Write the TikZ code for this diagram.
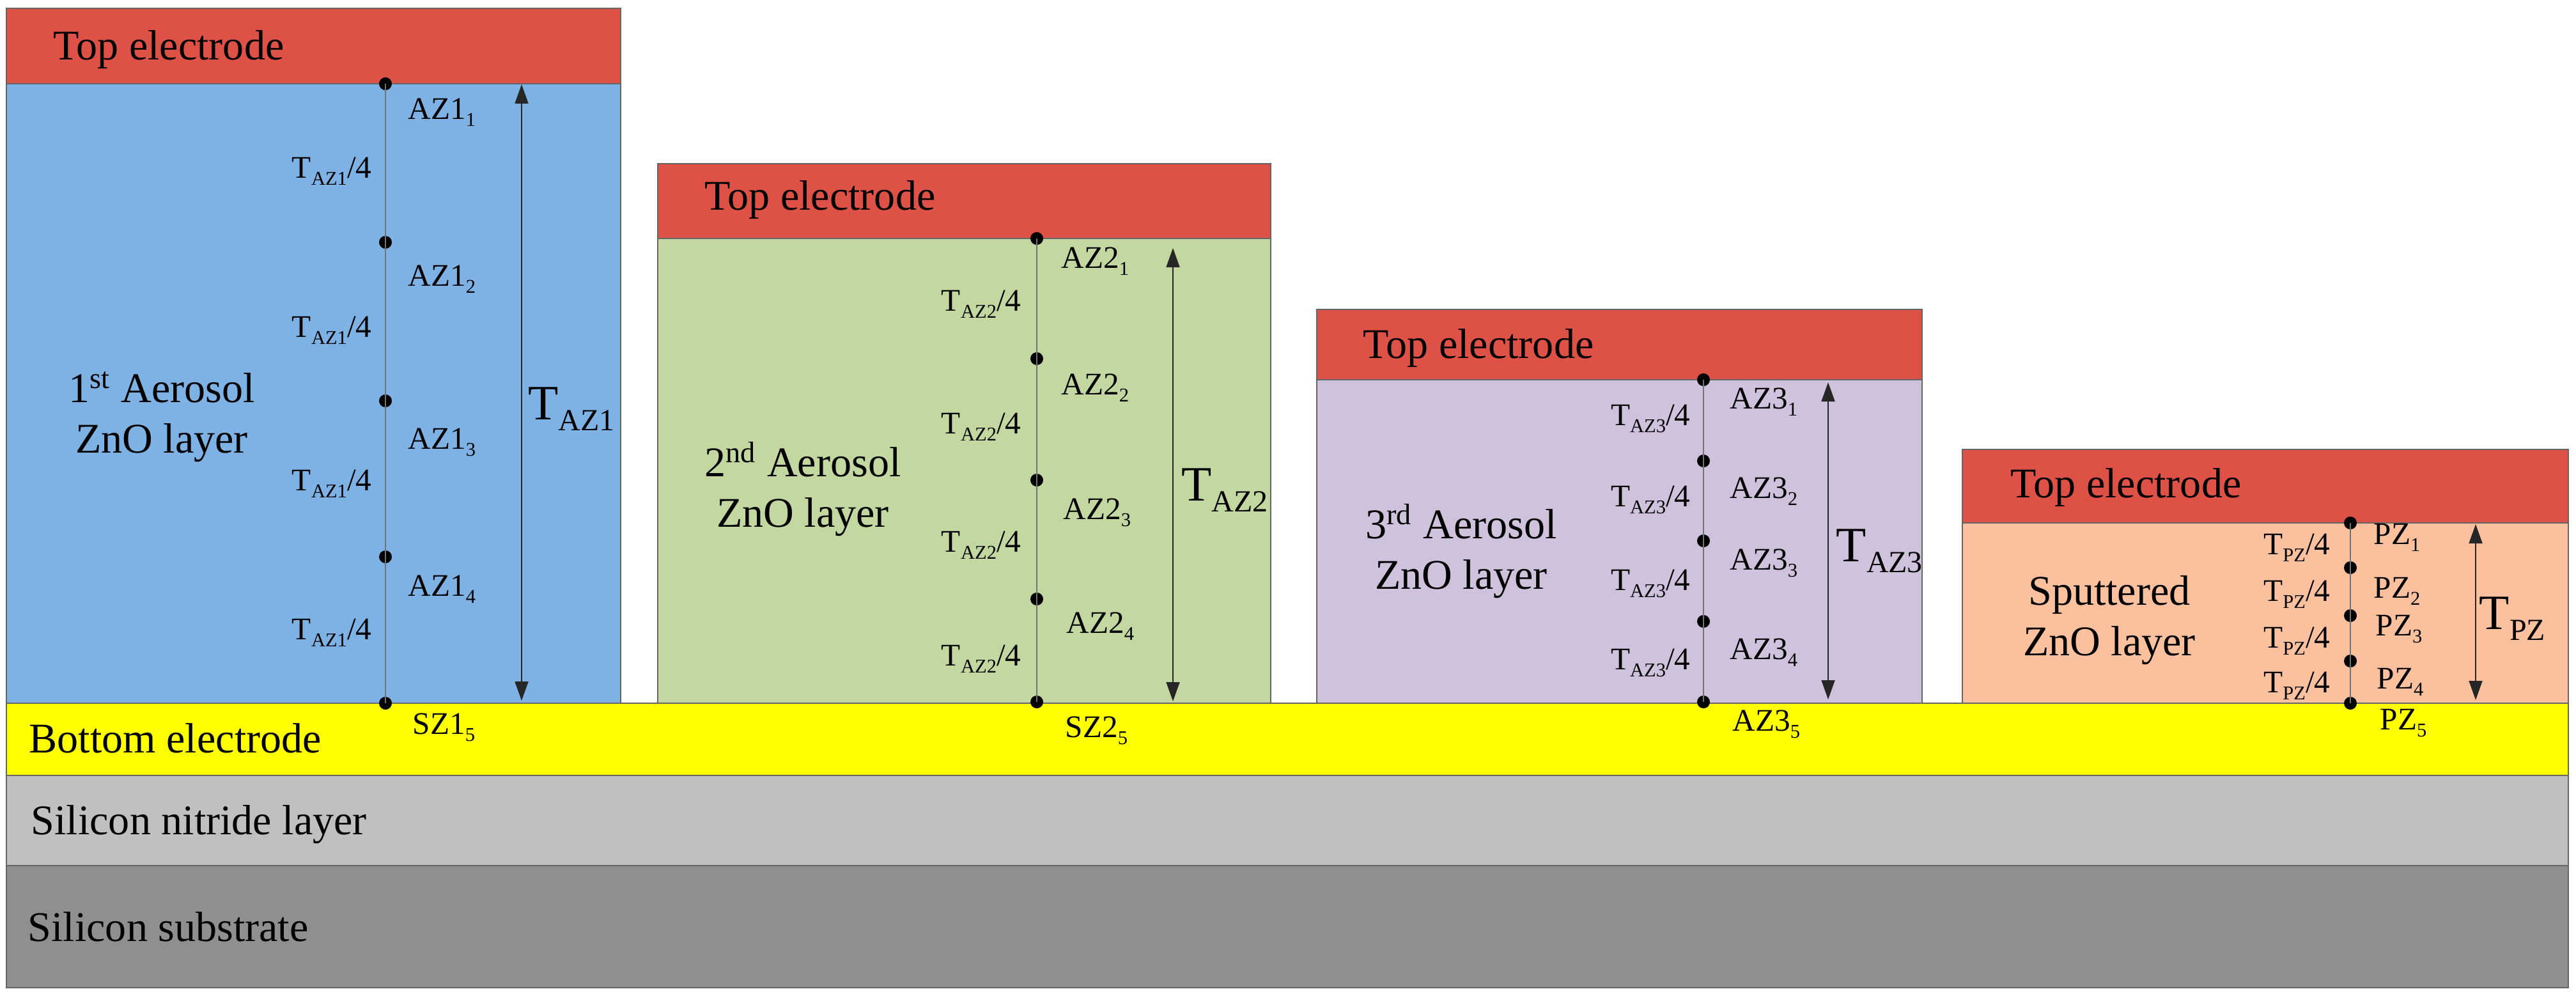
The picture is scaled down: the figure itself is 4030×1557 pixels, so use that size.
\documentclass[tikz,border=0pt]{standalone}
\usepackage{fontspec}
\setmainfont{Liberation Serif}
\usepackage{graphicx}
\usetikzlibrary{arrows.meta}
\definecolor{topred}{RGB}{221,81,70}
\definecolor{aeroblue}{RGB}{126,178,228}
\definecolor{aerogreen}{RGB}{195,215,160}
\definecolor{aeropurple}{RGB}{206,194,220}
\definecolor{sputpeach}{RGB}{251,193,158}
\definecolor{elyellow}{RGB}{255,255,0}
\definecolor{nitride}{RGB}{192,192,192}
\definecolor{substr}{RGB}{143,143,143}
\newcommand{\lsub}[1]{\raisebox{-0.22em}{\scalebox{0.62}{#1}}}
\begin{document}
\begin{tikzpicture}[x=0.01cm,y=-0.01cm,
  layerbox/.style={draw=black!60, line width=0.6pt},
  bigtxt/.style={font=\fontsize{18.8}{22.5}\selectfont, inner sep=0pt, align=center},
  smalltxt/.style={font=\fontsize{14}{16}\selectfont, inner sep=0pt},
  tlabel/.style={font=\fontsize{22}{24}\selectfont, inner sep=0pt},
  ptdot/.style={circle, fill=black, inner sep=0pt, minimum size=0.2cm},
  ruler/.style={line width=0.5pt, draw=black!55},
  dimarrow/.style={{Triangle[length=0.3cm,width=0.21cm]}-{Triangle[length=0.3cm,width=0.21cm]}, line width=0.5pt, draw=black!85, fill=black}
]
\useasboundingbox (0,0) rectangle (4030,1557);
\fill[white] (0,0) rectangle (4030,1557);

% base layers
\draw[layerbox, fill=substr] (10,1354) rectangle (4018,1545);
\draw[layerbox, fill=nitride] (10,1213) rectangle (4018,1354);
\draw[layerbox, fill=elyellow] (10,1100) rectangle (4018,1213);
\node[bigtxt, anchor=west] (lbot) at (45,1155) {Bottom electrode};
\node[bigtxt, anchor=west] (lnit) at (48,1290) {Silicon nitride layer};
\node[bigtxt, anchor=west] (lsub) at (43,1450) {Silicon substrate};

% stack 1
\draw[layerbox, fill=aeroblue] (10,131) rectangle (971,1100);
\draw[layerbox, fill=topred] (10,13) rectangle (971,131);
\node[bigtxt, anchor=west] (te1) at (83,78) {Top electrode};
\node[bigtxt] (ly1) at (253,652) {1\textsuperscript{st} Aerosol\\ZnO layer};
\node[ptdot] (a1) at (603,131) {};
\node[ptdot] (a2) at (603,379) {};
\node[ptdot] (a3) at (603,627) {};
\node[ptdot] (a4) at (603,871) {};
\node[ptdot] (a5) at (603,1100) {};
\draw[ruler] (a1.center) -- (a2.center) -- (a3.center) -- (a4.center) -- (a5.center);
\node[smalltxt, anchor=west] (na1) at (638,176) {AZ1\lsub{1}};
\node[smalltxt, anchor=west] (na2) at (638,437) {AZ1\lsub{2}};
\node[smalltxt, anchor=west] (na3) at (638,692) {AZ1\lsub{3}};
\node[smalltxt, anchor=west] (na4) at (638,922) {AZ1\lsub{4}};
\node[smalltxt, anchor=west] (na5) at (645,1138) {SZ1\lsub{5}};
\node[smalltxt, anchor=east] (ta1) at (582,268) {T\lsub{AZ1}/4};
\node[smalltxt, anchor=east] (ta2) at (582,517) {T\lsub{AZ1}/4};
\node[smalltxt, anchor=east] (ta3) at (582,757) {T\lsub{AZ1}/4};
\node[smalltxt, anchor=east] (ta4) at (582,990) {T\lsub{AZ1}/4};
\coordinate (ar1t) at (816,132);
\coordinate (ar1b) at (816,1096);
\draw[dimarrow] (ar1t) -- (ar1b);
\node[tlabel, anchor=west] (T1) at (826,640) {T\lsub{AZ1}};

% stack 2
\draw[layerbox, fill=aerogreen] (1029,373) rectangle (1988,1100);
\draw[layerbox, fill=topred] (1029,256) rectangle (1988,373);
\node[bigtxt, anchor=west] (te2) at (1102,313) {Top electrode};
\node[bigtxt] (ly2) at (1256,765) {2\textsuperscript{nd} Aerosol\\ZnO layer};
\node[ptdot] (b1) at (1622,373) {};
\node[ptdot] (b2) at (1622,561) {};
\node[ptdot] (b3) at (1622,751) {};
\node[ptdot] (b4) at (1622,937) {};
\node[ptdot] (b5) at (1622,1098) {};
\draw[ruler] (b1.center) -- (b2.center) -- (b3.center) -- (b4.center) -- (b5.center);
\node[smalltxt, anchor=west] (nb1) at (1660,409) {AZ2\lsub{1}};
\node[smalltxt, anchor=west] (nb2) at (1660,607) {AZ2\lsub{2}};
\node[smalltxt, anchor=west] (nb3) at (1663,802) {AZ2\lsub{3}};
\node[smalltxt, anchor=west] (nb4) at (1668,980) {AZ2\lsub{4}};
\node[smalltxt, anchor=west] (nb5) at (1666,1143) {SZ2\lsub{5}};
\node[smalltxt, anchor=east] (tb1) at (1598,476) {T\lsub{AZ2}/4};
\node[smalltxt, anchor=east] (tb2) at (1598,668) {T\lsub{AZ2}/4};
\node[smalltxt, anchor=east] (tb3) at (1598,853) {T\lsub{AZ2}/4};
\node[smalltxt, anchor=east] (tb4) at (1598,1031) {T\lsub{AZ2}/4};
\coordinate (ar2t) at (1835,388);
\coordinate (ar2b) at (1835,1097);
\draw[dimarrow] (ar2t) -- (ar2b);
\node[tlabel, anchor=west] (T2) at (1848,767) {T\lsub{AZ2}};

% stack 3
\draw[layerbox, fill=aeropurple] (2060,594) rectangle (3007,1100);
\draw[layerbox, fill=topred] (2060,484) rectangle (3007,594);
\node[bigtxt, anchor=west] (te3) at (2132,545) {Top electrode};
\node[bigtxt] (ly3) at (2286,862) {3\textsuperscript{rd} Aerosol\\ZnO layer};
\node[ptdot] (c1) at (2665,594) {};
\node[ptdot] (c2) at (2665,721) {};
\node[ptdot] (c3) at (2665,846) {};
\node[ptdot] (c4) at (2665,972) {};
\node[ptdot] (c5) at (2665,1098) {};
\draw[ruler] (c1.center) -- (c2.center) -- (c3.center) -- (c4.center) -- (c5.center);
\node[smalltxt, anchor=west] (nc1) at (2706,629) {AZ3\lsub{1}};
\node[smalltxt, anchor=west] (nc2) at (2706,769) {AZ3\lsub{2}};
\node[smalltxt, anchor=west] (nc3) at (2706,881) {AZ3\lsub{3}};
\node[smalltxt, anchor=west] (nc4) at (2706,1021) {AZ3\lsub{4}};
\node[smalltxt, anchor=west] (nc5) at (2710,1133) {AZ3\lsub{5}};
\node[smalltxt, anchor=east] (tc1) at (2645,655) {T\lsub{AZ3}/4};
\node[smalltxt, anchor=east] (tc2) at (2645,782) {T\lsub{AZ3}/4};
\node[smalltxt, anchor=east] (tc3) at (2645,913) {T\lsub{AZ3}/4};
\node[smalltxt, anchor=east] (tc4) at (2645,1037) {T\lsub{AZ3}/4};
\coordinate (ar3t) at (2860,598);
\coordinate (ar3b) at (2860,1094);
\draw[dimarrow] (ar3t) -- (ar3b);
\node[tlabel, anchor=west] (T3) at (2872,862) {T\lsub{AZ3}};

% stack 4
\draw[layerbox, fill=sputpeach] (3070,818) rectangle (4018,1100);
\draw[layerbox, fill=topred] (3070,703) rectangle (4018,818);
\node[bigtxt, anchor=west] (te4) at (3145,763) {Top electrode};
\node[bigtxt] (ly4) at (3300,970) {Sputtered\\ZnO layer};
\node[ptdot] (d1) at (3677,818) {};
\node[ptdot] (d2) at (3677,888) {};
\node[ptdot] (d3) at (3677,963) {};
\node[ptdot] (d4) at (3677,1034) {};
\node[ptdot] (d5) at (3677,1100) {};
\draw[ruler] (d1.center) -- (d2.center) -- (d3.center) -- (d4.center) -- (d5.center);
\node[smalltxt, anchor=west] (nd1) at (3713,841) {PZ\lsub{1}};
\node[smalltxt, anchor=west] (nd2) at (3713,925) {PZ\lsub{2}};
\node[smalltxt, anchor=west] (nd3) at (3716,984) {PZ\lsub{3}};
\node[smalltxt, anchor=west] (nd4) at (3718,1067) {PZ\lsub{4}};
\node[smalltxt, anchor=west] (nd5) at (3723,1131) {PZ\lsub{5}};
\node[smalltxt, anchor=east] (td1) at (3646,857) {T\lsub{PZ}/4};
\node[smalltxt, anchor=east] (td2) at (3646,930) {T\lsub{PZ}/4};
\node[smalltxt, anchor=east] (td3) at (3646,1003) {T\lsub{PZ}/4};
\node[smalltxt, anchor=east] (td4) at (3646,1073) {T\lsub{PZ}/4};
\coordinate (ar4t) at (3873,820);
\coordinate (ar4b) at (3873,1095);
\draw[dimarrow] (ar4t) -- (ar4b);
\node[tlabel, anchor=west] (T4) at (3878,968) {T\lsub{PZ}};
\end{tikzpicture}
\end{document}
